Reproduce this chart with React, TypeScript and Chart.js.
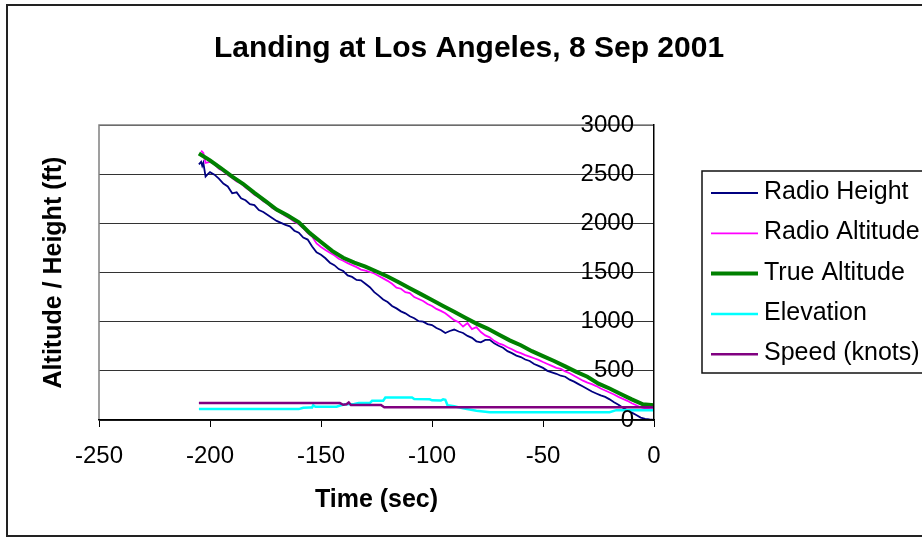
import React, { useEffect, useRef } from "react";
import { Chart, registerables } from "chart.js";

Chart.register(...registerables);

const TITLE = "Landing at Los Angeles, 8 Sep 2001";
const X_TITLE = "Time (sec)";
const Y_TITLE = "Altitude / Height (ft)";
const SERIES_NAMES = ["Radio Height", "Radio Altitude", "True Altitude", "Elevation", "Speed (knots)"];
const SERIES_COLORS = ["#000080", "#FF00FF", "#008000", "#00FFFF", "#800080"];
const SERIES_WIDTHS = [1.8, 1.8, 4, 2.5, 2.5];

const X_MIN = -250, X_MAX = 0, X_STEP = 50;
const Y_MIN = 0, Y_MAX = 3000, Y_STEP = 500;

// Radio Height
const rhTime = [-205,-204,-203.5,-203,-202,-201,-200,-198,-196,-194,-192,-190,-188,-186,-184,-182,-180,-178,-176,-174,-172,-170,-168,-166,-164,-162,-160,-158,-156,-154,-152,-150,-148,-146,-144,-142,-140,-138,-136,-134,-132,-130,-128,-126,-124,-122,-120,-118,-116,-114,-112,-110,-108,-106,-104,-102,-100,-98,-96,-94,-92,-90,-88,-86,-84,-82,-80,-78,-76,-74,-72,-70,-68,-66,-64,-62,-60,-58,-56,-54,-52,-50,-48,-46,-44,-42,-40,-38,-36,-34,-32,-30,-28,-26,-24,-22,-20,-18,-16,-14,-12,-10,-8,-6,-4,-2,0];
const radioHeight = [2600,2625,2585,2615,2475,2500,2520,2495,2455,2405,2375,2305,2315,2255,2235,2195,2185,2135,2115,2085,2055,2025,2005,1985,1970,1925,1905,1855,1835,1765,1705,1680,1645,1600,1575,1535,1515,1470,1455,1425,1420,1385,1350,1300,1265,1225,1200,1160,1135,1105,1085,1055,1035,1005,1000,975,965,935,915,885,905,920,900,885,855,835,800,790,815,815,780,755,735,700,680,655,640,615,600,570,550,530,500,485,470,450,440,410,390,365,340,315,290,270,250,235,210,180,155,125,100,75,50,25,12,5,0];

// Radio Altitude
const raTime = [-204,-203,-202,-200,-198,-196,-194,-192,-190,-188,-186,-184,-182,-180,-178,-176,-174,-172,-170,-168,-166,-164,-162,-160,-158,-156,-154,-152,-150,-148,-146,-144,-142,-140,-138,-136,-134,-132,-130,-128,-126,-124,-122,-120,-118,-116,-114,-112,-110,-108,-106,-104,-102,-100,-98,-96,-94,-92,-90,-88,-86,-84,-82,-80,-78,-76,-74,-72,-70,-68,-66,-64,-62,-60,-58,-56,-54,-52,-50,-48,-46,-44,-42,-40,-38,-36,-34,-32,-30,-28,-26,-24,-22,-20,-18,-16,-14,-12,-10,-8,-6,-4,-2,0];
const radioAltitude = [2740,2715,2615,2625,2600,2555,2530,2490,2460,2425,2405,2365,2330,2290,2265,2225,2200,2155,2130,2105,2075,2050,2015,1990,1950,1900,1865,1795,1760,1730,1700,1675,1640,1620,1595,1575,1555,1530,1520,1505,1490,1465,1440,1415,1385,1345,1335,1300,1290,1250,1230,1210,1180,1160,1130,1110,1085,1050,1015,995,950,985,925,945,895,860,840,805,780,765,740,720,695,680,660,645,628,612,590,570,550,530,520,495,475,450,425,400,380,365,345,320,300,280,260,235,215,195,170,150,130,118,112,110];

// True Altitude
const taTime = [-205,-200,-195,-190,-185,-180,-175,-170,-165,-160,-155,-150,-145,-140,-135,-130,-125,-120,-115,-110,-105,-100,-95,-90,-85,-80,-75,-70,-65,-60,-55,-50,-45,-40,-35,-30,-25,-20,-15,-10,-5,0];
const trueAltitude = [2710,2640,2560,2475,2400,2310,2225,2140,2080,2010,1900,1810,1720,1650,1600,1560,1510,1460,1400,1340,1280,1220,1160,1100,1040,980,930,870,810,760,700,650,600,545,490,440,370,320,265,210,160,150];

// Elevation
const elTime = [-205,-160,-158,-155,-154,-153.5,-152.5,-143,-141,-139,-135,-133,-128,-127,-122,-121,-109,-108,-101,-100,-96,-95,-94,-93,-90,-86,-80,-74,-20,-17,0];
const elevation = [111,111,125,128,128,150,135,135,150,160,162,172,172,195,195,228,228,213,210,200,198,210,205,150,140,118,95,80,80,100,100];

// Speed (knots)
const spTime = [-205,-141.5,-140,-138.5,-137.5,-136.5,-123,-121.5,0];
const speed = [172,172,155,160,178,152,152,130,130];

const SERIES_X = [rhTime, raTime, taTime, elTime, spTime];
const SERIES_Y = [radioHeight, radioAltitude, trueAltitude, elevation, speed];

const FONT = "'Liberation Sans', Arial, Helvetica, sans-serif";

const decorPlugin = {
  id: "decor",
  beforeDatasetsDraw(chart: any) {
    const { ctx, chartArea: a } = chart;
    ctx.save();
    ctx.strokeStyle = "#808080";
    ctx.lineWidth = 1.5;
    ctx.beginPath();
    ctx.moveTo(a.left, a.bottom);
    ctx.lineTo(a.left, a.top);
    ctx.lineTo(a.right, a.top);
    ctx.stroke();
    ctx.restore();
  },
  afterDatasetsDraw(chart: any) {
    // y tick labels, drawn inside the plot to the left of the right-hand axis
    const { ctx, chartArea: a } = chart;
    const ys = chart.scales.y;
    ctx.save();
    ctx.fillStyle = "#000";
    ctx.font = `24px ${FONT}`;
    ctx.textAlign = "right";
    ctx.textBaseline = "middle";
    ys.ticks.forEach((t: any) => {
      ctx.fillText(String(t.value), a.right - 20, ys.getPixelForValue(t.value));
    });
    ctx.restore();
  },
  afterDraw(chart: any) {
    const { ctx, chartArea: a } = chart;
    ctx.save();
    // outer frame
    ctx.strokeStyle = "#222";
    ctx.lineWidth = 2;
    ctx.strokeRect(7, 5, 1000, 531);
    // title
    ctx.fillStyle = "#000";
    ctx.font = `bold 30px ${FONT}`;
    ctx.textAlign = "center";
    ctx.textBaseline = "alphabetic";
    ctx.fillText(TITLE, 469, 57);
    // y title
    ctx.save();
    ctx.translate(54, (a.top + a.bottom) / 2);
    ctx.rotate(-Math.PI / 2);
    ctx.font = `bold 25px ${FONT}`;
    ctx.textBaseline = "middle";
    ctx.textAlign = "center";
    ctx.fillText(Y_TITLE, 0, 0);
    ctx.restore();
    // legend
    const lx = a.right + 48;
    const ly = a.top + 46;
    ctx.strokeStyle = "#111";
    ctx.lineWidth = 1.5;
    ctx.strokeRect(lx, ly, 300, 202);
    ctx.font = `25px ${FONT}`;
    ctx.textAlign = "left";
    ctx.textBaseline = "alphabetic";
    chart.data.datasets.forEach((ds: any, i: number) => {
      const cy = ly + 22 + i * 40.3;
      ctx.strokeStyle = ds.borderColor;
      ctx.lineWidth = ds.borderWidth;
      ctx.beginPath();
      ctx.moveTo(lx + 9, cy);
      ctx.lineTo(lx + 56, cy);
      ctx.stroke();
      ctx.fillStyle = "#000";
      ctx.fillText(ds.label, lx + 62, cy + 6);
    });
    ctx.restore();
  },
};

export default function App() {
  const ref = useRef<HTMLCanvasElement>(null);
  useEffect(() => {
    const datasets = SERIES_NAMES.map((name, i) => ({
      label: name,
      data: SERIES_X[i].map((x, j) => ({ x, y: SERIES_Y[i][j] })),
      borderColor: SERIES_COLORS[i],
      backgroundColor: SERIES_COLORS[i],
      borderWidth: SERIES_WIDTHS[i],
      pointRadius: 0,
      tension: 0,
      fill: false,
      order: SERIES_NAMES.length - i,
    }));
    const chart = new Chart(ref.current as HTMLCanvasElement, {
      type: "line",
      data: { datasets },
      options: {
        responsive: false,
        animation: false,
        devicePixelRatio: 1,
        layout: { padding: { left: 99, right: 268, top: 125, bottom: 29.5 } },
        plugins: {
          legend: { display: false },
          title: { display: false },
          tooltip: { enabled: false },
        },
        scales: {
          x: {
            type: "linear",
            position: "bottom",
            min: X_MIN,
            max: X_MAX,
            ticks: {
              stepSize: X_STEP,
              padding: 17,
              color: "#000",
              font: { family: FONT, size: 24, lineHeight: 1 },
              maxRotation: 0,
              callback: (v: any) => String(v),
            },
            grid: { drawOnChartArea: false, drawTicks: true, tickLength: 7, color: "#000", lineWidth: 1 },
            border: { display: true, color: "#000", width: 1.5, z: 1 },
            title: {
              display: true,
              text: X_TITLE,
              color: "#000",
              font: { family: FONT, size: 25, weight: "bold", lineHeight: 1 },
              padding: { top: 2.5, bottom: 0 },
            },
          },
          y: {
            type: "linear",
            position: "right",
            min: Y_MIN,
            max: Y_MAX,
            ticks: {
              stepSize: Y_STEP,
              display: false,
            },
            grid: { drawTicks: false, color: "#333", lineWidth: 1 },
            border: { display: true, color: "#000", width: 1.5, z: 1 },
          },
        },
      } as any,
      plugins: [decorPlugin],
    });
    return () => chart.destroy();
  }, []);
  return (
    <div style={{ position: "absolute", left: 0, top: 0, width: 922, height: 542, background: "#fff" }}>
      <canvas ref={ref} width={922} height={542} style={{ display: "block" }} />
    </div>
  );
}
